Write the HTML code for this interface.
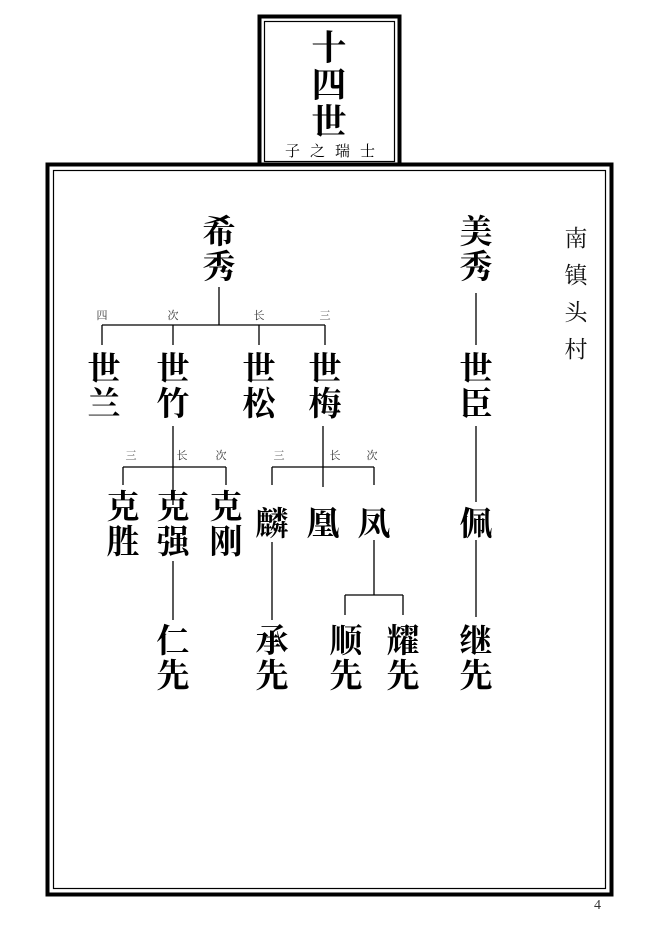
<!DOCTYPE html>
<html><head><meta charset="utf-8"><style>
body{margin:0;width:659px;height:925px;background:#fff;position:relative;overflow:hidden}
.c{position:absolute;width:40px;margin-left:-20px;text-align:center;font-family:"Noto Serif CJK SC","Liberation Serif",serif;font-weight:700;font-size:33px;line-height:35px;color:#000}
.s{position:absolute;width:20px;margin-left:-10px;text-align:center;font-family:"Noto Serif CJK SC","Liberation Serif",serif;font-size:11px;line-height:12px;color:#333}
.v{position:absolute;width:30px;margin-left:-15px;text-align:center;font-family:"Noto Serif CJK SC","Liberation Serif",serif;font-size:23px;line-height:37px;color:#111}
svg{position:absolute;left:0;top:0}
</style></head><body>
<svg width="659" height="925">
<g fill="none" stroke="#000">
<rect x="259.5" y="16.5" width="140" height="148" stroke-width="4"/>
<rect x="264.5" y="21.5" width="130" height="140" stroke-width="1.2"/>
<rect x="47.5" y="164.5" width="564" height="730" stroke-width="4"/>
<rect x="53.5" y="170.5" width="552" height="718" stroke-width="1.2"/>
<g stroke-width="1.3">
<path d="M219 287V325M102 325H325M102 325V345M173 325V345M259 325V345M325 325V345"/>
<path d="M173 426V505M123 467H226M123 467V485M226 467V485"/>
<path d="M323 426V487M272 467H374M272 467V485M374 467V485"/>
<path d="M173 561V620M272 542V620M374 540V595M345 595H403M345 595V615M403 595V615"/>
<path d="M476 293V345M476 426V502M476 540V617"/>
</g></g></svg>
<div class="c" style="left:329px;top:28px;font-size:35px;line-height:37px">十<br>四<br>世</div>
<div style="position:absolute;left:268px;top:140px;width:124px;text-align:center;font-family:'Noto Serif CJK SC',serif;font-size:15px;letter-spacing:10px;padding-left:10px;box-sizing:border-box">子之瑞士</div>
<div class="c" style="left:219px;top:212px">希<br>秀</div>
<div class="c" style="left:476px;top:212px">美<br>秀</div>
<div class="s" style="left:102px;top:309px">四</div>
<div class="s" style="left:173px;top:309px">次</div>
<div class="s" style="left:259px;top:309px">长</div>
<div class="s" style="left:325px;top:309px">三</div>
<div class="c" style="left:104px;top:349px">世<br>兰</div>
<div class="c" style="left:173px;top:349px">世<br>竹</div>
<div class="c" style="left:259px;top:349px">世<br>松</div>
<div class="c" style="left:325px;top:349px">世<br>梅</div>
<div class="c" style="left:476px;top:349px">世<br>臣</div>
<div class="s" style="left:131px;top:449px">三</div>
<div class="s" style="left:182px;top:449px">长</div>
<div class="s" style="left:221px;top:449px">次</div>
<div class="s" style="left:279px;top:449px">三</div>
<div class="s" style="left:335px;top:449px">长</div>
<div class="s" style="left:372px;top:449px">次</div>
<div class="c" style="left:123px;top:487px">克<br>胜</div>
<div class="c" style="left:173px;top:487px">克<br>强</div>
<div class="c" style="left:226px;top:487px">克<br>刚</div>
<div class="c" style="left:272px;top:504px">麟</div>
<div class="c" style="left:323px;top:504px">凰</div>
<div class="c" style="left:374px;top:504px">凤</div>
<div class="c" style="left:476px;top:504px">佩</div>
<div class="c" style="left:173px;top:621px">仁<br>先</div>
<div class="c" style="left:272px;top:621px">承<br>先</div>
<div class="c" style="left:346px;top:621px">顺<br>先</div>
<div class="c" style="left:403px;top:621px">耀<br>先</div>
<div class="c" style="left:476px;top:621px">继<br>先</div>
<div class="v" style="left:576px;top:218px">南<br>镇<br>头<br>村</div>
<div style="position:absolute;left:594px;top:898px;font-family:'Liberation Serif',serif;font-size:14px;color:#333">4</div>
</body></html>
